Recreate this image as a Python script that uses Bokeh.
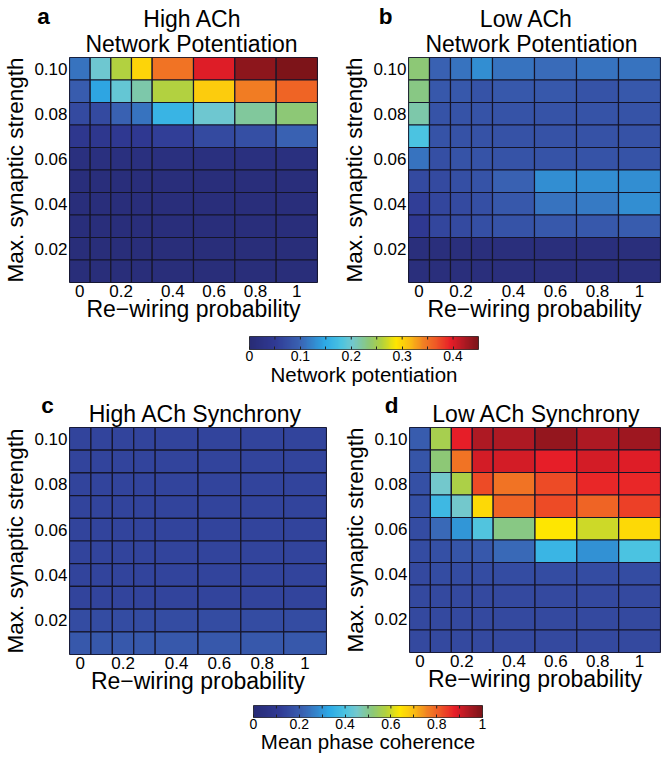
import numpy as np
from bokeh.plotting import figure
from bokeh.models import Range1d, FixedTicker, Label, LinearColorMapper, ColumnDataSource
from bokeh.layouts import row, column
from bokeh.embed import file_html
from bokeh.resources import INLINE

# ---------------- data ----------------
rewiring = [0, 0.1, 0.2, 0.3, 0.4, 0.6, 0.8, 1.0]
strength = [0.10, 0.09, 0.08, 0.07, 0.06, 0.05, 0.04, 0.03, 0.02, 0.01]  # top row first
rewiring_ticks = [0, 0.2, 0.4, 0.6, 0.8, 1.0]
strength_ticks = [0.02, 0.04, 0.06, 0.08, 0.10]

potentiation_ticks = [0, 0.1, 0.2, 0.3, 0.4]
potentiation_minor = [0.05, 0.15, 0.25, 0.35]
potentiation_range = [0, 0.45]
coherence_ticks = [0, 0.2, 0.4, 0.6, 0.8, 1.0]
coherence_minor = [0.1, 0.3, 0.5, 0.7, 0.9]
coherence_range = [0, 1.0]

potentiation_high_ach = [
    [0.110, 0.200, 0.260, 0.300, 0.350, 0.400, 0.440, 0.450],
    [0.090, 0.145, 0.195, 0.215, 0.260, 0.305, 0.345, 0.360],
    [0.070, 0.070, 0.095, 0.110, 0.160, 0.200, 0.220, 0.235],
    [0.040, 0.040, 0.045, 0.045, 0.055, 0.070, 0.075, 0.095],
    [0.015, 0.015, 0.015, 0.015, 0.015, 0.015, 0.015, 0.015],
    [0.010, 0.010, 0.010, 0.010, 0.010, 0.010, 0.010, 0.010],
    [0.010, 0.010, 0.010, 0.010, 0.010, 0.010, 0.010, 0.010],
    [0.010, 0.010, 0.010, 0.010, 0.010, 0.010, 0.010, 0.010],
    [0.008, 0.008, 0.008, 0.008, 0.008, 0.008, 0.008, 0.008],
    [0.008, 0.008, 0.008, 0.008, 0.008, 0.008, 0.008, 0.008],
]
potentiation_low_ach = [
    [0.235, 0.095, 0.110, 0.130, 0.110, 0.105, 0.110, 0.110],
    [0.230, 0.085, 0.085, 0.080, 0.085, 0.085, 0.080, 0.085],
    [0.215, 0.080, 0.080, 0.080, 0.080, 0.080, 0.080, 0.080],
    [0.180, 0.080, 0.078, 0.078, 0.078, 0.078, 0.078, 0.078],
    [0.110, 0.075, 0.080, 0.080, 0.080, 0.080, 0.080, 0.080],
    [0.070, 0.070, 0.075, 0.080, 0.095, 0.130, 0.130, 0.130],
    [0.055, 0.065, 0.070, 0.075, 0.085, 0.110, 0.115, 0.130],
    [0.045, 0.065, 0.070, 0.075, 0.080, 0.085, 0.085, 0.090],
    [0.012, 0.012, 0.012, 0.012, 0.012, 0.012, 0.012, 0.012],
    [0.012, 0.012, 0.012, 0.012, 0.012, 0.012, 0.012, 0.012],
]
synchrony_high_ach = [
    [0.14, 0.14, 0.14, 0.14, 0.14, 0.14, 0.14, 0.14],
    [0.14, 0.14, 0.14, 0.14, 0.14, 0.14, 0.14, 0.14],
    [0.14, 0.14, 0.14, 0.14, 0.14, 0.14, 0.14, 0.14],
    [0.14, 0.14, 0.14, 0.14, 0.14, 0.14, 0.14, 0.14],
    [0.14, 0.14, 0.14, 0.14, 0.14, 0.14, 0.14, 0.14],
    [0.14, 0.14, 0.14, 0.14, 0.14, 0.14, 0.14, 0.14],
    [0.14, 0.14, 0.14, 0.14, 0.14, 0.14, 0.14, 0.14],
    [0.14, 0.14, 0.14, 0.14, 0.14, 0.14, 0.14, 0.14],
    [0.16, 0.16, 0.16, 0.16, 0.16, 0.16, 0.16, 0.16],
    [0.19, 0.19, 0.19, 0.19, 0.19, 0.19, 0.19, 0.19],
]
synchrony_low_ach = [
    [0.20, 0.56, 0.88, 0.94, 0.94, 0.97, 0.94, 0.96],
    [0.18, 0.52, 0.78, 0.90, 0.90, 0.88, 0.90, 0.89],
    [0.17, 0.45, 0.57, 0.83, 0.78, 0.83, 0.87, 0.87],
    [0.17, 0.37, 0.45, 0.66, 0.80, 0.83, 0.80, 0.84],
    [0.16, 0.23, 0.30, 0.41, 0.51, 0.64, 0.60, 0.66],
    [0.16, 0.17, 0.18, 0.19, 0.23, 0.36, 0.29, 0.40],
    [0.15, 0.16, 0.16, 0.16, 0.16, 0.16, 0.16, 0.16],
    [0.15, 0.15, 0.15, 0.15, 0.15, 0.15, 0.15, 0.15],
    [0.15, 0.15, 0.15, 0.15, 0.15, 0.15, 0.15, 0.15],
    [0.15, 0.15, 0.15, 0.15, 0.15, 0.15, 0.15, 0.15],
]

# ---------------- style ----------------
FONT = "Liberation Sans"
CELL_LINE = "#15152a"
PAGE_W = 667
_anchors = [
    (0.00, (40, 44, 118)), (0.11, (48, 58, 148)), (0.22, (58, 100, 180)),
    (0.33, (45, 170, 230)), (0.40, (75, 195, 225)), (0.45, (115, 200, 205)),
    (0.52, (140, 200, 120)), (0.58, (180, 210, 60)), (0.64, (255, 230, 0)),
    (0.70, (250, 190, 20)), (0.76, (242, 130, 35)), (0.82, (238, 85, 38)),
    (0.88, (232, 30, 40)), (0.94, (175, 25, 35)), (1.00, (125, 20, 25)),
]


def make_palette(n=256):
    ts = np.array([a[0] for a in _anchors])
    cs = np.array([a[1] for a in _anchors], dtype=float)
    out = []
    for t in np.linspace(0, 1, n):
        rgb = [int(round(np.interp(t, ts, cs[:, k]))) for k in range(3)]
        out.append("#%02x%02x%02x" % tuple(rgb))
    return out


PALETTE = make_palette()


def text_strip(H, texts):
    """A borderless figure used only to hold panel letters and titles.
    y is the wanted baseline, measured down from the strip's top."""
    p = figure(width=PAGE_W, height=H, x_range=Range1d(0, PAGE_W), y_range=Range1d(H, 0),
               x_axis_type=None, y_axis_type=None,
               output_backend="svg", toolbar_location=None,
               min_border_left=0, min_border_right=0, min_border_top=0, min_border_bottom=0,
               background_fill_color="white", border_fill_color="white")
    p.grid.visible = False
    p.outline_line_color = None
    for (txt, x, y, size, bold) in texts:
        px = float(size.replace("px", ""))
        p.add_layout(Label(x=x, y=y - 0.25 * px, text=txt, text_font=FONT, text_font_size=size,
                           text_font_style="bold" if bold else "normal",
                           text_align="center", text_baseline="alphabetic",
                           text_color="black"))
    return p


def heatmap(vals, low, high, W, H, bl, br, bt, bb):
    rights = rewiring[1:] + [2 * rewiring[-1] - rewiring[-2]]
    dy = strength[0] - strength[1]
    d = dict(left=[], right=[], bottom=[], top=[], v=[])
    for r, s in enumerate(strength):
        for c, x in enumerate(rewiring):
            d["left"].append(x)
            d["right"].append(rights[c])
            d["bottom"].append(s - dy / 2)
            d["top"].append(s + dy / 2)
            d["v"].append(vals[r][c])
    p = figure(width=W, height=H,
               x_range=Range1d(rewiring[0], rights[-1]),
               y_range=Range1d(strength[-1] - dy / 2, strength[0] + dy / 2),
               output_backend="svg", toolbar_location=None,
               min_border_left=bl, min_border_right=br,
               min_border_top=bt, min_border_bottom=bb,
               background_fill_color="white", border_fill_color="white")
    mapper = LinearColorMapper(palette=PALETTE, low=low, high=high)
    p.quad(left="left", right="right", bottom="bottom", top="top",
           source=ColumnDataSource(d),
           fill_color={"field": "v", "transform": mapper},
           line_color=CELL_LINE, line_width=1.2)
    p.grid.visible = False
    p.outline_line_color = CELL_LINE
    p.outline_line_width = 1

    centers = {}
    for c, x in enumerate(rewiring):
        if x in rewiring_ticks:
            centers[round((x + rights[c]) / 2, 6)] = f"{x:g}"
    xa = p.xaxis[0]
    xa.ticker = FixedTicker(ticks=list(centers.keys()))
    xa.major_label_overrides = centers
    ya = p.yaxis[0]
    ya.ticker = FixedTicker(ticks=strength_ticks)
    ya.major_label_overrides = {t: f"{t:.2f}" for t in strength_ticks}
    for ax in (xa, ya):
        ax.axis_line_color = None
        ax.major_tick_line_color = None
        ax.minor_tick_line_color = None
        ax.major_tick_out = 0
        ax.major_tick_in = 0
        ax.major_label_standoff = 2
        ax.major_label_text_font = FONT
        ax.major_label_text_font_size = "17px"
        ax.major_label_text_color = "black"
        ax.axis_label_text_font = FONT
        ax.axis_label_text_font_style = "normal"
        ax.axis_label_text_color = "black"
    xa.axis_label = "Re\u2212wiring probability"
    xa.axis_label_text_font_size = "23px"
    xa.axis_label_standoff = -4
    ya.axis_label = "Max. synaptic strength"
    ya.axis_label_text_font_size = "22.5px"
    ya.axis_label_standoff = 3
    return p


def colorbar(rng, ticks, minor, title, H, bl, br, bt, bb, title_standoff):
    low, high = rng
    p = figure(width=PAGE_W, height=H, x_range=Range1d(low, high), y_range=Range1d(0, 1),
               output_backend="svg", toolbar_location=None,
               min_border_left=bl, min_border_right=br,
               min_border_top=bt, min_border_bottom=bb,
               background_fill_color="white", border_fill_color="white")
    mapper = LinearColorMapper(palette=PALETTE, low=low, high=high)
    p.image(image=[np.linspace(low, high, 400)[None, :]], x=low, y=0,
            dw=high - low, dh=1, color_mapper=mapper)
    fh = H - bt - bb
    allt = sorted(ticks + minor)
    p.segment(x0=allt, x1=allt, y0=[1.0] * len(allt), y1=[1.0 - 3.0 / fh] * len(allt),
              line_color="#222222", line_width=1)
    p.grid.visible = False
    p.yaxis.visible = False
    p.outline_line_color = "#333333"
    p.outline_line_width = 1
    ax = p.xaxis[0]
    ax.ticker = FixedTicker(ticks=ticks, minor_ticks=minor)
    ax.major_label_overrides = {t: f"{t:g}" for t in ticks}
    ax.axis_line_color = None
    ax.major_tick_in = 3
    ax.major_tick_out = 0
    ax.minor_tick_in = 3
    ax.minor_tick_out = 0
    ax.major_tick_line_color = "#222222"
    ax.minor_tick_line_color = "#222222"
    ax.major_label_standoff = 1
    ax.major_label_text_font = FONT
    ax.major_label_text_font_size = "14px"
    ax.major_label_text_color = "black"
    ax.axis_label = title
    ax.axis_label_text_font = FONT
    ax.axis_label_text_font_size = "20.5px"
    ax.axis_label_text_font_style = "normal"
    ax.axis_label_text_color = "black"
    ax.axis_label_standoff = title_standoff
    return p


# title strip 1: y 0 .. 57
strip1 = text_strip(57, [
    ("a", 43, 22, "22.5px", True),
    ("High ACh", 192, 24, "23px", False),
    ("Network Potentiation", 191, 49, "23px", False),
    ("b", 385, 22, "22.5px", True),
    ("Low ACh", 526, 24, "23px", False),
    ("Network Potentiation", 531, 49, "23px", False),
])
# row 1: y 57 .. 330
fa = heatmap(potentiation_high_ach, *potentiation_range, 327, 273, 65, 10, 0, 48)
fb = heatmap(potentiation_low_ach, *potentiation_range, 340, 273, 81, 7, 0, 48)
# colour bar 1: y 330 .. 388
cb1 = colorbar(potentiation_range, potentiation_ticks, potentiation_minor,
               "Network potentiation", 58, 249, 189, 6, 39, -1)
# title strip 2: y 388 .. 427
strip2 = text_strip(39, [
    ("c", 47, 22.7, "22.5px", True),
    ("High ACh Synchrony", 195, 31, "23px", False),
    ("d", 391, 22.7, "22.5px", True),
    ("Low ACh Synchrony", 536, 31, "23px", False),
])
# row 2: y 427 .. 699
fc = heatmap(synchrony_high_ach, *coherence_range, 332, 272, 68, 6, 0, 45)
fd = heatmap(synchrony_low_ach, *coherence_range, 335, 272, 77, 7, 0, 47)
# colour bar 2: y 699 .. 757
cb2 = colorbar(coherence_range, coherence_ticks, coherence_minor,
               "Mean phase coherence", 58, 253, 185, 6, 40, -2)

# each plot wrapped on its own so that Bokeh does not align their frames
layout = column(row(strip1),
                row(column(fa), column(fb)),
                row(cb1),
                row(strip2),
                row(column(fc), column(fd)),
                row(cb2))
open("out.html", "w").write(file_html(layout, INLINE))
